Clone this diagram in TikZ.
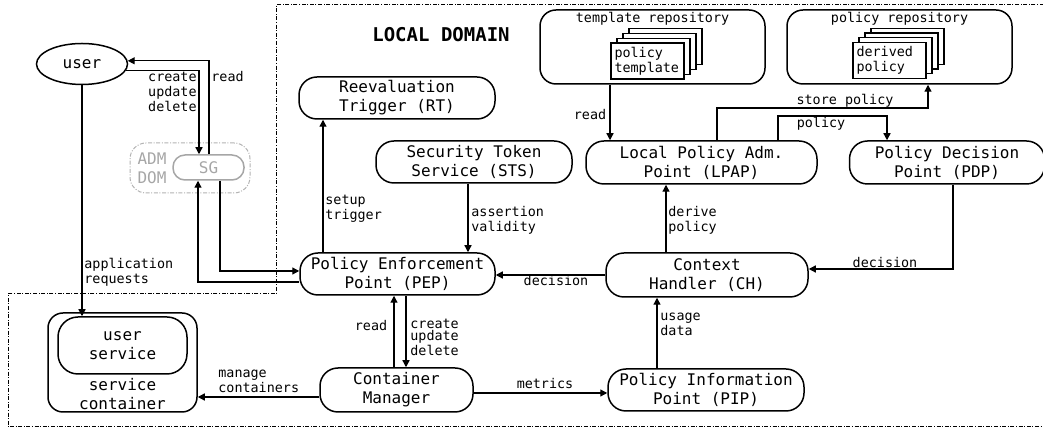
\documentclass[tikz,border=0pt]{standalone}
\usepackage{fontspec}
\setmonofont{DejaVu Sans Mono}
\usetikzlibrary{shapes.geometric, arrows.meta, calc}

\newcommand{\nodefont}{\ttfamily\fontsize{8}{9.5}\selectfont}
\newcommand{\lblfont}{\ttfamily\fontsize{6.7}{7.5}\selectfont}

\begin{document}
\begin{tikzpicture}[
    x=0.5pt, y=-0.5pt,
    comp/.style={draw, rounded corners=9pt, line width=0.75pt, align=center, font=\nodefont, inner sep=0pt},
    repo/.style={draw, rounded corners=8pt, line width=0.75pt, minimum width=112.5pt, minimum height=37pt},
    page/.style={draw, fill=white, line width=0.6pt, minimum width=36.5pt, minimum height=18pt, text width=33pt, align=left, font=\lblfont, inner sep=0pt},
    lbl/.style={font=\lblfont, align=left, inner sep=0pt},
    flow/.style={-{Triangle[length=3.5pt,width=3.5pt]}, line width=0.65pt},
    domline/.style={line width=0.5pt, dash pattern=on 2pt off 0.8pt on 0.5pt off 0.8pt}
]
\useasboundingbox (0,0) rectangle (1043,431);

% domain borders
\draw[domline] (1060,5) -- (276,5) -- (276,294) -- (8,294) -- (8,427) -- (1060,427);
\node[font=\ttfamily\bfseries\fontsize{9.5}{11}\selectfont] (ldom) at (441,35) {LOCAL DOMAIN};

% user side
\node[draw, ellipse, line width=0.75pt, minimum width=45.5pt, minimum height=20.5pt, font=\nodefont] (user) at (82,64) {user};
\node[draw=gray!60, rounded corners=8pt, domline, minimum width=60pt, minimum height=25pt] (adm) at (190,168) {};
\node[font=\nodefont, text=gray!70, align=left, inner sep=0pt] (admlbl) at (152,168) {ADM\\DOM};
\node[comp, draw=gray!70, text=gray!70, rounded corners=6pt, minimum width=35.5pt, minimum height=12.5pt] (sg) at (208.5,167.5) {SG};

% components
\node[comp, minimum width=98pt, minimum height=21pt] (rt) at (397,98) {Reevaluation\\Trigger (RT)};
\node[comp, minimum width=98pt, minimum height=21pt] (sts) at (474,162) {Security Token\\Service (STS)};
\node[comp, minimum width=97.5pt, minimum height=21pt] (pep) at (397.5,274) {Policy Enforcement\\Point (PEP)};
\node[comp, minimum width=115.5pt, minimum height=21.5pt] (lpap) at (701.5,162.5) {Local Policy Adm.\\Point (LPAP)};
\node[comp, minimum width=97.5pt, minimum height=21.5pt] (pdp) at (947,162.5) {Policy Decision\\Point (PDP)};
\node[comp, minimum width=101pt, minimum height=22pt] (ch) at (707,275) {Context\\Handler (CH)};
\node[comp, minimum width=98pt, minimum height=21pt] (pip) at (706,390) {Policy Information\\Point (PIP)};
\node[comp, minimum width=76.5pt, minimum height=22pt] (cm) at (396.5,390) {Container\\Manager};

% service container
\node[draw, rounded corners=7.5pt, line width=0.75pt, minimum width=74.5pt, minimum height=49.5pt] (scont) at (122.5,362.5) {};
\node[comp, rounded corners=10pt, minimum width=64.5pt, minimum height=28.5pt] (usvc) at (122.5,345.5) {user\\service};
\node[font=\nodefont, align=center, inner sep=0pt] (sclbl) at (122.5,394.5) {service\\container};

% repositories
\node[repo] (trepo) at (652.5,47) {};
\node[repo] (prepo) at (899.5,47) {};
\node[lbl] (trlbl) at (652.5,19) {template repository};
\node[lbl] (prlbl) at (899.5,19) {policy repository};
\coordinate (tpc) at (647.5,61);
\coordinate (ppc) at (889.5,60.5);
\foreach \i in {3,2,1} {
    \node[page] at ($(tpc)+(6*\i,-4.7*\i)$) {};
    \node[page] at ($(ppc)+(6*\i,-4.7*\i)$) {};
}
\node[page] (tpage) at (tpc) {policy\\template};
\node[page] (ppage) at (ppc) {derived\\policy};

% x positions of the vertical connectors
\coordinate (cud) at (199,0);
\coordinate (rdu) at (209,0);
\coordinate (sgo) at (220,0);
\coordinate (sgi) at (198,0);
\coordinate (xrt) at (323,0);
\coordinate (xsts) at (468,0);
\coordinate (xcmr) at (394,0);
\coordinate (xcmc) at (406,0);
\coordinate (xread) at (610,0);
\coordinate (xder) at (666,0);
\coordinate (xpip) at (657,0);
\coordinate (xpdp) at (953,0);
\coordinate (st1) at (717,108);
\coordinate (st2) at (928,108);
\coordinate (po1) at (778,116);
\coordinate (po2) at (887,116);
\coordinate (ymet) at (0,393);
\coordinate (yman) at (0,397);

% connectors
\draw[flow] (user.-8) -| (cud |- sg.north);
\draw[flow] (rdu |- sg.north) |- (user.4);
\draw[flow] (user.south) -- (user.south |- usvc.north);
\draw[flow] (sgo |- sg.south) |- ($(pep.west)+(0,-3)$);
\draw[flow] ($(pep.west)+(0,8)$) -| (sgi |- sg.south);
\draw[flow] (pep.north -| xrt) -- (rt.south -| xrt);
\draw[flow] (sts.south -| xsts) -- (pep.north -| xsts);
\draw[flow] (ch.west) -- (ch.west -| pep.east);
\draw[flow] (ch.north -| xder) -- (lpap.south -| xder);
\draw[flow] (pip.north -| xpip) -- (ch.south -| xpip);
\draw[flow] (pdp.south -| xpdp) |- ($(ch.east)+(0,-6)$);
\draw[flow] (trepo.south -| xread) -- (lpap.north -| xread);
\draw[flow] (lpap.north -| st1) -- (st1) -- (st2) -- (prepo.south -| st2);
\draw[flow] (lpap.north -| po1) -- (po1) -- (po2) -- (pdp.north -| po2);
\draw[flow] (cm.north -| xcmr) -- (pep.south -| xcmr);
\draw[flow] (pep.south -| xcmc) -- (cm.north -| xcmc);
\draw[flow] (cm.east |- ymet) -- (pip.west |- ymet);
\draw[flow] (cm.west |- yman) -- (scont.east |- yman);

% connector labels
\node[lbl, anchor=east] (lcud) at (197,92) {create\\update\\delete};
\node[lbl, anchor=west] (lrdu) at (211,77) {read};
\node[lbl, anchor=west] (lapp) at (84,272) {application\\requests};
\node[lbl, anchor=west] (lrt) at (325,208.5) {setup\\trigger};
\node[lbl, anchor=west] (lsts) at (471,220.5) {assertion\\validity};
\node[lbl] (ldec1) at (556,281) {decision};
\node[lbl, anchor=west] (lder) at (668,220.5) {derive\\policy};
\node[lbl] (ldec2) at (885,263) {decision};
\node[lbl] (lread) at (590,115) {read};
\node[lbl] (lstore) at (845,101) {store policy};
\node[lbl] (lpol) at (821,124) {policy};
\node[lbl, anchor=west] (luse) at (660,324.5) {usage\\data};
\node[lbl] (lcmr) at (371,326) {read};
\node[lbl, anchor=west, font=\ttfamily\fontsize{6.7}{5.8}\selectfont] (lcmc) at (410,337.5) {create\\update\\delete};
\node[lbl] (lmet) at (545,384) {metrics};
\node[lbl, anchor=west] (lman) at (218,381.5) {manage\\containers};
\end{tikzpicture}
\end{document}
